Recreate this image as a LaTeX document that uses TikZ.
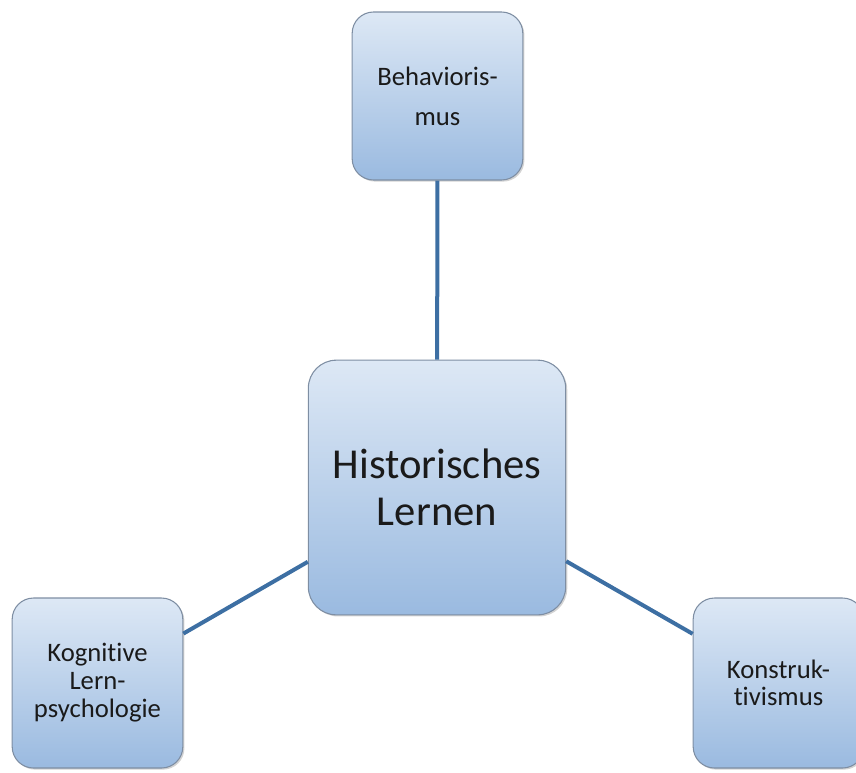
\documentclass[tikz,border=0pt]{standalone}
\usepackage{fontspec}
\setmainfont{Carlito}[Ligatures=NoCommon]
\usepackage{tikz}
\usetikzlibrary{shadows}
\definecolor{boxtop}{HTML}{DDE8F5}
\definecolor{boxbottom}{HTML}{9ABAE0}
\definecolor{boxedge}{HTML}{7E8EA3}
\definecolor{linkblue}{HTML}{3D6FA3}
\definecolor{textblack}{HTML}{1A1A1A}

\begin{document}
\begin{tikzpicture}[
  x=0.75pt, y=-0.75pt,
  leaf/.style={
    draw=boxedge, line width=0.8pt, top color=boxtop, bottom color=boxbottom,
    rounded corners=16pt, minimum width=128pt, minimum height=126pt,
    align=center, inner sep=2pt, text=textblack,
    drop shadow={shadow xshift=1.2pt, shadow yshift=-1.2pt, opacity=0.35}
  },
  hub/.style={
    leaf, rounded corners=21pt, minimum width=193pt, minimum height=191pt,
    font=\fontsize{32}{35}\selectfont
  },
  link/.style={line width=3pt, color=linkblue}
]
  \useasboundingbox (0,0) rectangle (856,772);
  \coordinate (c) at (437,487.5);
  \node[hub] (center) at (c) {Historisches\\Lernen};
  \node[leaf, font=\fontsize{20}{30}\selectfont] (behav) at (437.5,96) {Behavioris-\\mus};
  \node[leaf, minimum height=127.5pt, font=\fontsize{20}{21}\selectfont] (kogn) at (97.5,683) {Kognitive\\Lern-\\psychologie};
  \node[leaf, minimum height=127.5pt, font=\fontsize{20}{20}\selectfont] (konst) at (778.5,683) {Konstruk-\\tivismus};
  \draw[link] (behav) -- (center);
  \draw[link] (kogn) -- (center);
  \draw[link] (konst) -- (center);
\end{tikzpicture}
\end{document}
